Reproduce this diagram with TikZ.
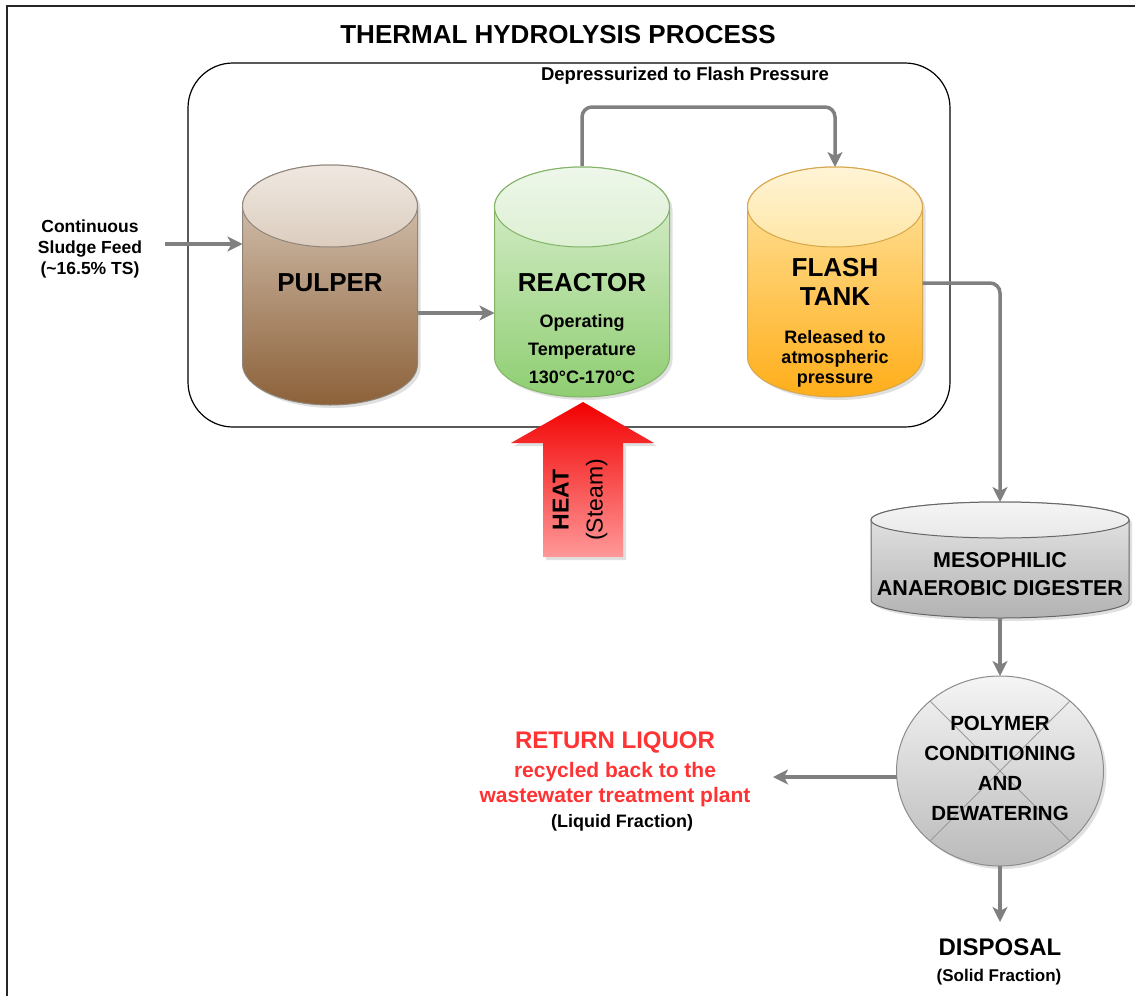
\documentclass[tikz,border=0pt]{standalone}
\usepackage{fontspec}
\setmainfont{Liberation Sans}
\usetikzlibrary{arrows.meta,shapes.geometric}
\definecolor{flowgray}{HTML}{808080}
\definecolor{redtxt}{HTML}{FF3333}
\definecolor{pulcapA}{HTML}{EFE8E1}
\definecolor{pulcapB}{HTML}{DCCDBE}
\definecolor{pulbodyB}{HTML}{8C6139}
\definecolor{pulline}{HTML}{8F857A}
\definecolor{reacapA}{HTML}{EEF7EA}
\definecolor{reacapB}{HTML}{DDF0D3}
\definecolor{reabodyB}{HTML}{8FCE72}
\definecolor{realine}{HTML}{82B366}
\definecolor{flacapA}{HTML}{FFF4D6}
\definecolor{flacapB}{HTML}{FFE6A6}
\definecolor{flabodyB}{HTML}{FFAE1A}
\definecolor{flaline}{HTML}{D6A64A}
\newcommand{\fs}[2]{\fontsize{#1}{#2}\selectfont}
% cylinder: #1 cx, #2 top-centre y, #3 bottom-centre y, #4 rx, #5 ry, #6 stroke, #7 cap top, #8 body top, #9 body bottom
\newcommand{\tankshape}[9]{%
  \fill[black, opacity=0.12] (#1-#4+3,#2-3) -- (#1-#4+3,#3-3) arc[start angle=180,end angle=360,x radius=#4,y radius=#5] -- (#1+#4+3,#2-3) arc[start angle=0,end angle=180,x radius=#4,y radius=#5] -- cycle;
  \shade[top color=#8, bottom color=#9, draw=#6, line width=1pt] (#1-#4,#2) -- (#1-#4,#3) arc[start angle=180,end angle=360,x radius=#4,y radius=#5] -- (#1+#4,#2) arc[start angle=0,end angle=180,x radius=#4,y radius=#5] -- cycle;
  \shade[top color=#7, bottom color=#8, draw=#6, line width=1pt] (#1,#2) ellipse[x radius=#4, y radius=#5];
}
\tikzset{
  x=1pt, y=1pt,
  every node/.style={font=\bfseries, inner sep=0pt, outer sep=0pt},
  flow/.style={draw=flowgray, line width=3.5pt, rounded corners=10pt, -{Stealth[length=15pt,width=15pt,inset=4pt]}},
  holder/.style={draw=none, inner sep=0pt, outer sep=0pt, rectangle},
}
\begin{document}
\begin{tikzpicture}
\useasboundingbox (0,0) rectangle (1135,-996);
\fill[white] (0,0) rectangle (1135,-996);
% page frame
\draw[line width=2pt, black!85] (7,-996) -- (7,-6) -- (1135,-6);

% title
\node[font=\bfseries\fs{26}{30}] (title) at (558,-35) {THERMAL HYDROLYSIS PROCESS};

% container
\node[draw=black, line width=1.2pt, rounded corners=45pt, minimum width=762pt, minimum height=364pt] (thp) at (569,-245) {};
\node[font=\bfseries\fs{18.5}{22}] (depress) at (685,-76) {Depressurized to Flash Pressure};

% cylinder holders
\node[holder, minimum width=175pt, minimum height=240pt] (pulper) at (330,-285) {};
\node[holder, minimum width=175pt, minimum height=232pt] (reactor) at (582,-282) {};
\node[holder, minimum width=175pt, minimum height=230pt] (flash) at (835,-282) {};
\node[holder, minimum width=258pt, minimum height=116pt] (digester) at (1000,-560) {};

% cylinders
\tankshape{330}{-206}{-364}{87.5}{41}{pulline}{pulcapA}{pulcapB}{pulbodyB}
\tankshape{582}{-207}{-357}{87.5}{40}{realine}{reacapA}{reacapB}{reabodyB}
\tankshape{835}{-207}{-357}{87.5}{40}{flaline}{flacapA}{flacapB}{flabodyB}
\tankshape{1000}{-520}{-600}{129}{18}{black!60}{black!4}{black!9}{black!30}

% cylinder labels
\node[font=\bfseries\fs{26}{30}] (pulpertxt) at (330,-283) {PULPER};
\node[font=\bfseries\fs{26}{30}] (reactortxt) at (582,-283) {REACTOR};
\node[font=\bfseries\fs{18}{28}, align=center] (reactorinfo) at (582,-349) {Operating\\Temperature\\130°C-170°C};
\node[font=\bfseries\fs{26}{29}, align=center] (flashtxt) at (835,-282) {FLASH\\TANK};
\node[font=\bfseries\fs{18}{20}, align=center] (flashinfo) at (835,-359) {Released to\\atmospheric\\pressure};
\node[font=\bfseries\fs{21.5}{28}, align=center] (digtxt) at (1000,-574) {MESOPHILIC\\ANAEROBIC DIGESTER};

% polymer conditioning
\fill[black, opacity=0.12] (1003,-774) ellipse[x radius=103.5, y radius=95];
\node[ellipse, draw=black!45, line width=1pt, top color=black!4, bottom color=black!27, minimum width=207pt, minimum height=190pt] (polymer) at (1000,-771) {};
\draw[black!40, line width=0.8pt] (polymer.45) -- (polymer.225) (polymer.135) -- (polymer.-45);
\node[font=\bfseries\fs{20.5}{30}, align=center] (polytxt) at (1000,-768) {POLYMER\\CONDITIONING\\AND\\DEWATERING};

% heat arrow
\fill[black, opacity=0.12] (586,-405) -- (657,-446) -- (626,-446) -- (626,-560) -- (546,-560) -- (546,-446) -- (514,-446) -- cycle;
\shade[top color=red!95!black, bottom color=red!40!white] (583,-402) -- (654,-443) -- (623,-443) -- (623,-557) -- (543,-557) -- (543,-443) -- (511,-443) -- cycle;
\node[rotate=90, align=center, font=\fs{23}{34}] (heat) at (580,-500) {\textbf{HEAT}\\\mdseries (Steam)};

% feed
\node[font=\bfseries\fs{17.5}{21}, align=center] (feed) at (90,-249) {Continuous\\Sludge Feed\\(\textasciitilde 16.5\% TS)};
\coordinate (feedout) at (165,-244);
\draw[flow] (feedout) -- (feedout -| pulper.west);

% return liquor / disposal texts
\node[font=\bfseries\fs{24}{28}, text=redtxt] (ret) at (615,-742) {RETURN LIQUOR};
\node[font=\bfseries\fs{21}{25}, text=redtxt, align=center] (recyc) at (615,-785) {recycled back to the\\wastewater treatment plant};
\node[font=\bfseries\fs{18}{22}] (liquid) at (622,-823) {(Liquid Fraction)};
\node[font=\bfseries\fs{24}{28}] (disp) at (1000,-947) {DISPOSAL};
\node[font=\bfseries\fs{17}{21}] (solid) at (999,-977) {(Solid Fraction)};

% connectors
\draw[flow] ([yshift=-28pt]pulper.east) -- ([yshift=-31pt]reactor.west);
\draw[flow] (reactor.north) -- ++(0,59) -| (flash.north);
\draw[flow] ([yshift=-1pt]flash.east) -| (digester.north);
\draw[flow] (digester.south) -- (polymer.north);
\coordinate (retend) at (773,-777);
\draw[flow] ([yshift=-6pt]polymer.west) -- (retend);
\coordinate (dispend) at (1000,-922);
\draw[flow] (polymer.south) -- (dispend);
\end{tikzpicture}
\end{document}
